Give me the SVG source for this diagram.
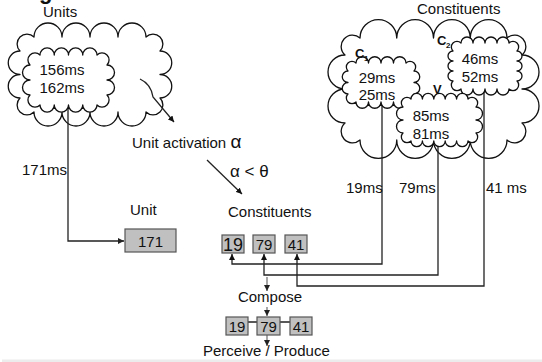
<svg xmlns="http://www.w3.org/2000/svg" width="542" height="362" viewBox="0 0 542 362">
<defs>
<style>
text{font-family:"Liberation Sans",Arial,sans-serif;font-size:15px;fill:#111}
.cloud{fill:#fff;stroke:#111;stroke-width:1.3;stroke-linejoin:round}
.ln{fill:none;stroke:#222;stroke-width:1.3}
.gl{fill:none;stroke:#777;stroke-width:1.3}
.box{fill:#c0c0c0;stroke:#555;stroke-width:1.2}
.lbl{font-weight:bold;font-size:13px}
.sub{font-weight:bold;font-size:8px}
.mid{text-anchor:middle}
</style>
<marker id="ah" viewBox="0 0 10 10" refX="10" refY="5" markerWidth="6" markerHeight="6" markerUnits="userSpaceOnUse" orient="auto"><path d="M0,0 L10,5 L0,10z" fill="#111"/></marker>
<marker id="ahg" viewBox="0 0 10 10" refX="10" refY="5" markerWidth="6" markerHeight="6" markerUnits="userSpaceOnUse" orient="auto"><path d="M0,0 L10,5 L0,10z" fill="#222"/></marker>
</defs>
<rect width="542" height="362" fill="#fff"/>
<rect x="2" y="359.5" width="540" height="2.5" fill="#ececec"/>
<text x="39" y="-1" style="font-weight:bold;font-size:22px">g</text>

<g id="units-cloud">
<path class="cloud" d="M34 37 A1 1 0 0 1 62 37 A1 1 0 0 1 90 37 A1 1 0 0 1 118 37 A1 1 0 0 1 146 37 A1 1 0 0 1 160 51 A1 1 0 0 1 160 74.5 A1 1 0 0 1 160 98 A1 1 0 0 1 146 112 A1 1 0 0 1 118 112 A1 1 0 0 1 90 112 A1 1 0 0 1 62 112 A1 1 0 0 1 34 112 A1 1 0 0 1 20 98 A1 1 0 0 1 20 74.5 A1 1 0 0 1 20 51 A1 1 0 0 1 34 37 Z"/>
<text x="43" y="17">Units</text>
</g>

<g id="constituents-cloud">
<path class="cloud" d="M360 38 A1 1 0 0 1 396.75 38 A1 1 0 0 1 433.5 38 A1 1 0 0 1 470.25 38 A1 1 0 0 1 507 38 A1 1 0 0 1 522 55 A1 1 0 0 1 522 89 A1 1 0 0 1 522 123 A1 1 0 0 1 507 140 A1 1 0 0 1 470.25 140 A1 1 0 0 1 433.5 140 A1 1 0 0 1 396.75 140 A1 1 0 0 1 360 140 A1 1 0 0 1 345 123 A1 1 0 0 1 345 89 A1 1 0 0 1 345 55 A1 1 0 0 1 360 38 Z"/>
<text x="417" y="14">Constituents</text>
</g>

<g id="connectors">
<path class="ln" d="M140 79 Q151 84 153 97 L174 122" marker-end="url(#ah)"/>
<path class="ln" d="M207 160 L242 194" marker-end="url(#ah)"/>
<path class="ln" d="M68 100 L68 241 L124 241" marker-end="url(#ahg)"/>
<path class="ln" d="M382 98 L382 264 L232 264 L232 254" marker-end="url(#ah)"/>
<path class="ln" d="M438 135 L438 275 L264 275 L264 254" marker-end="url(#ah)"/>
<path class="ln" d="M484 85 L484 286 L297 286 L297 254" marker-end="url(#ah)"/>
<path class="gl" d="M267 277 L267 291" marker-end="url(#ahg)"/>
<path class="gl" d="M267 307 L267 316" marker-end="url(#ahg)"/>
<path class="gl" d="M267 335 L267 346" marker-end="url(#ahg)"/>
<path class="ln" d="M248 322 L257 322 M280 322 L290 322"/>
</g>

<g id="units-inner">
<path class="cloud" d="M40 55 A1 1 0 0 1 54.25 55 A1 1 0 0 1 68.5 55 A1 1 0 0 1 82.75 55 A1 1 0 0 1 97 55 A1 1 0 0 1 107 65 A1 1 0 0 1 107 80 A1 1 0 0 1 107 95 A1 1 0 0 1 97 105 A1 1 0 0 1 82.75 105 A1 1 0 0 1 68.5 105 A1 1 0 0 1 54.25 105 A1 1 0 0 1 40 105 A1 1 0 0 1 30 95 A1 1 0 0 1 30 80 A1 1 0 0 1 30 65 A1 1 0 0 1 40 55 Z"/>
<text x="62" y="75" class="mid">156ms</text>
<text x="62" y="93" class="mid">162ms</text>
</g>

<g id="c1">
<path class="cloud" d="M356 63 A1 1 0 0 1 368.5 63 A1 1 0 0 1 381 63 A1 1 0 0 1 393.5 63 A1 1 0 0 1 406 63 A1 1 0 0 1 414 71 A1 1 0 0 1 414 82.5 A1 1 0 0 1 414 94 A1 1 0 0 1 406 102 A1 1 0 0 1 393.5 102 A1 1 0 0 1 381 102 A1 1 0 0 1 368.5 102 A1 1 0 0 1 356 102 A1 1 0 0 1 348 94 A1 1 0 0 1 348 82.5 A1 1 0 0 1 348 71 A1 1 0 0 1 356 63 Z"/>
<text x="355" y="58" class="lbl">C</text><text x="364" y="61" class="sub">1</text>
<text x="377" y="83" class="mid">29ms</text>
<text x="377" y="100" class="mid">25ms</text>
</g>

<g id="c2">
<path class="cloud" d="M461 43 A1 1 0 0 1 473 43 A1 1 0 0 1 485 43 A1 1 0 0 1 497 43 A1 1 0 0 1 509 43 A1 1 0 0 1 517 51 A1 1 0 0 1 517 61 A1 1 0 0 1 517 71 A1 1 0 0 1 517 81 A1 1 0 0 1 509 89 A1 1 0 0 1 497 89 A1 1 0 0 1 485 89 A1 1 0 0 1 473 89 A1 1 0 0 1 461 89 A1 1 0 0 1 453 81 A1 1 0 0 1 453 71 A1 1 0 0 1 453 61 A1 1 0 0 1 453 51 A1 1 0 0 1 461 43 Z"/>
<text x="437" y="45" class="lbl">C</text><text x="446" y="48" class="sub">2</text>
<text x="480" y="64" class="mid">46ms</text>
<text x="480" y="82" class="mid">52ms</text>
</g>

<g id="v">
<path class="cloud" d="M411 99 A1 1 0 0 1 422.4 99 A1 1 0 0 1 433.8 99 A1 1 0 0 1 445.2 99 A1 1 0 0 1 456.6 99 A1 1 0 0 1 468 99 A1 1 0 0 1 476 107 A1 1 0 0 1 476 120 A1 1 0 0 1 476 133 A1 1 0 0 1 468 141 A1 1 0 0 1 456.6 141 A1 1 0 0 1 445.2 141 A1 1 0 0 1 433.8 141 A1 1 0 0 1 422.4 141 A1 1 0 0 1 411 141 A1 1 0 0 1 403 133 A1 1 0 0 1 403 120 A1 1 0 0 1 403 107 A1 1 0 0 1 411 99 Z"/>
<text x="433" y="94" class="lbl">V</text>
<text x="431" y="121" class="mid">85ms</text>
<text x="431" y="139" class="mid">81ms</text>
</g>

<g id="labels">
<text x="132" y="148">Unit activation <tspan style="font-size:19px">α</tspan></text>
<text x="230" y="177" style="font-size:17px">α &lt; θ</text>
<text x="22" y="175">171ms</text>
<text x="346" y="193">19ms</text>
<text x="399" y="193">79ms</text>
<text x="486" y="193">41 ms</text>
<text x="130" y="215">Unit</text>
<text x="228" y="217">Constituents</text>
</g>

<g id="unit-171">
<rect class="box" x="125" y="229" width="51" height="23"/>
<text x="150.5" y="247" class="mid">171</text>
</g>

<g id="c-boxes">
<rect class="box" x="222" y="235" width="22" height="18"/>
<text x="233" y="251" class="mid" style="font-size:18px">19</text>
<rect class="box" x="253" y="235" width="22" height="18"/>
<text x="264" y="250" class="mid">79</text>
<rect class="box" x="285" y="235" width="22" height="18"/>
<text x="296" y="250" class="mid">41</text>
</g>

<g id="compose">
<text x="270" y="302" class="mid">Compose</text>
</g>

<g id="composed">
<rect class="box" x="226" y="317" width="22" height="18"/>
<text x="237" y="332" class="mid">19</text>
<rect class="box" x="257" y="317" width="23" height="18"/>
<text x="268.5" y="332" class="mid">79</text>
<rect class="box" x="290" y="317" width="22" height="18"/>
<text x="301" y="332" class="mid">41</text>
</g>

<g id="perceive">
<text x="203" y="356">Perceive / Produce</text>
</g>
</svg>
